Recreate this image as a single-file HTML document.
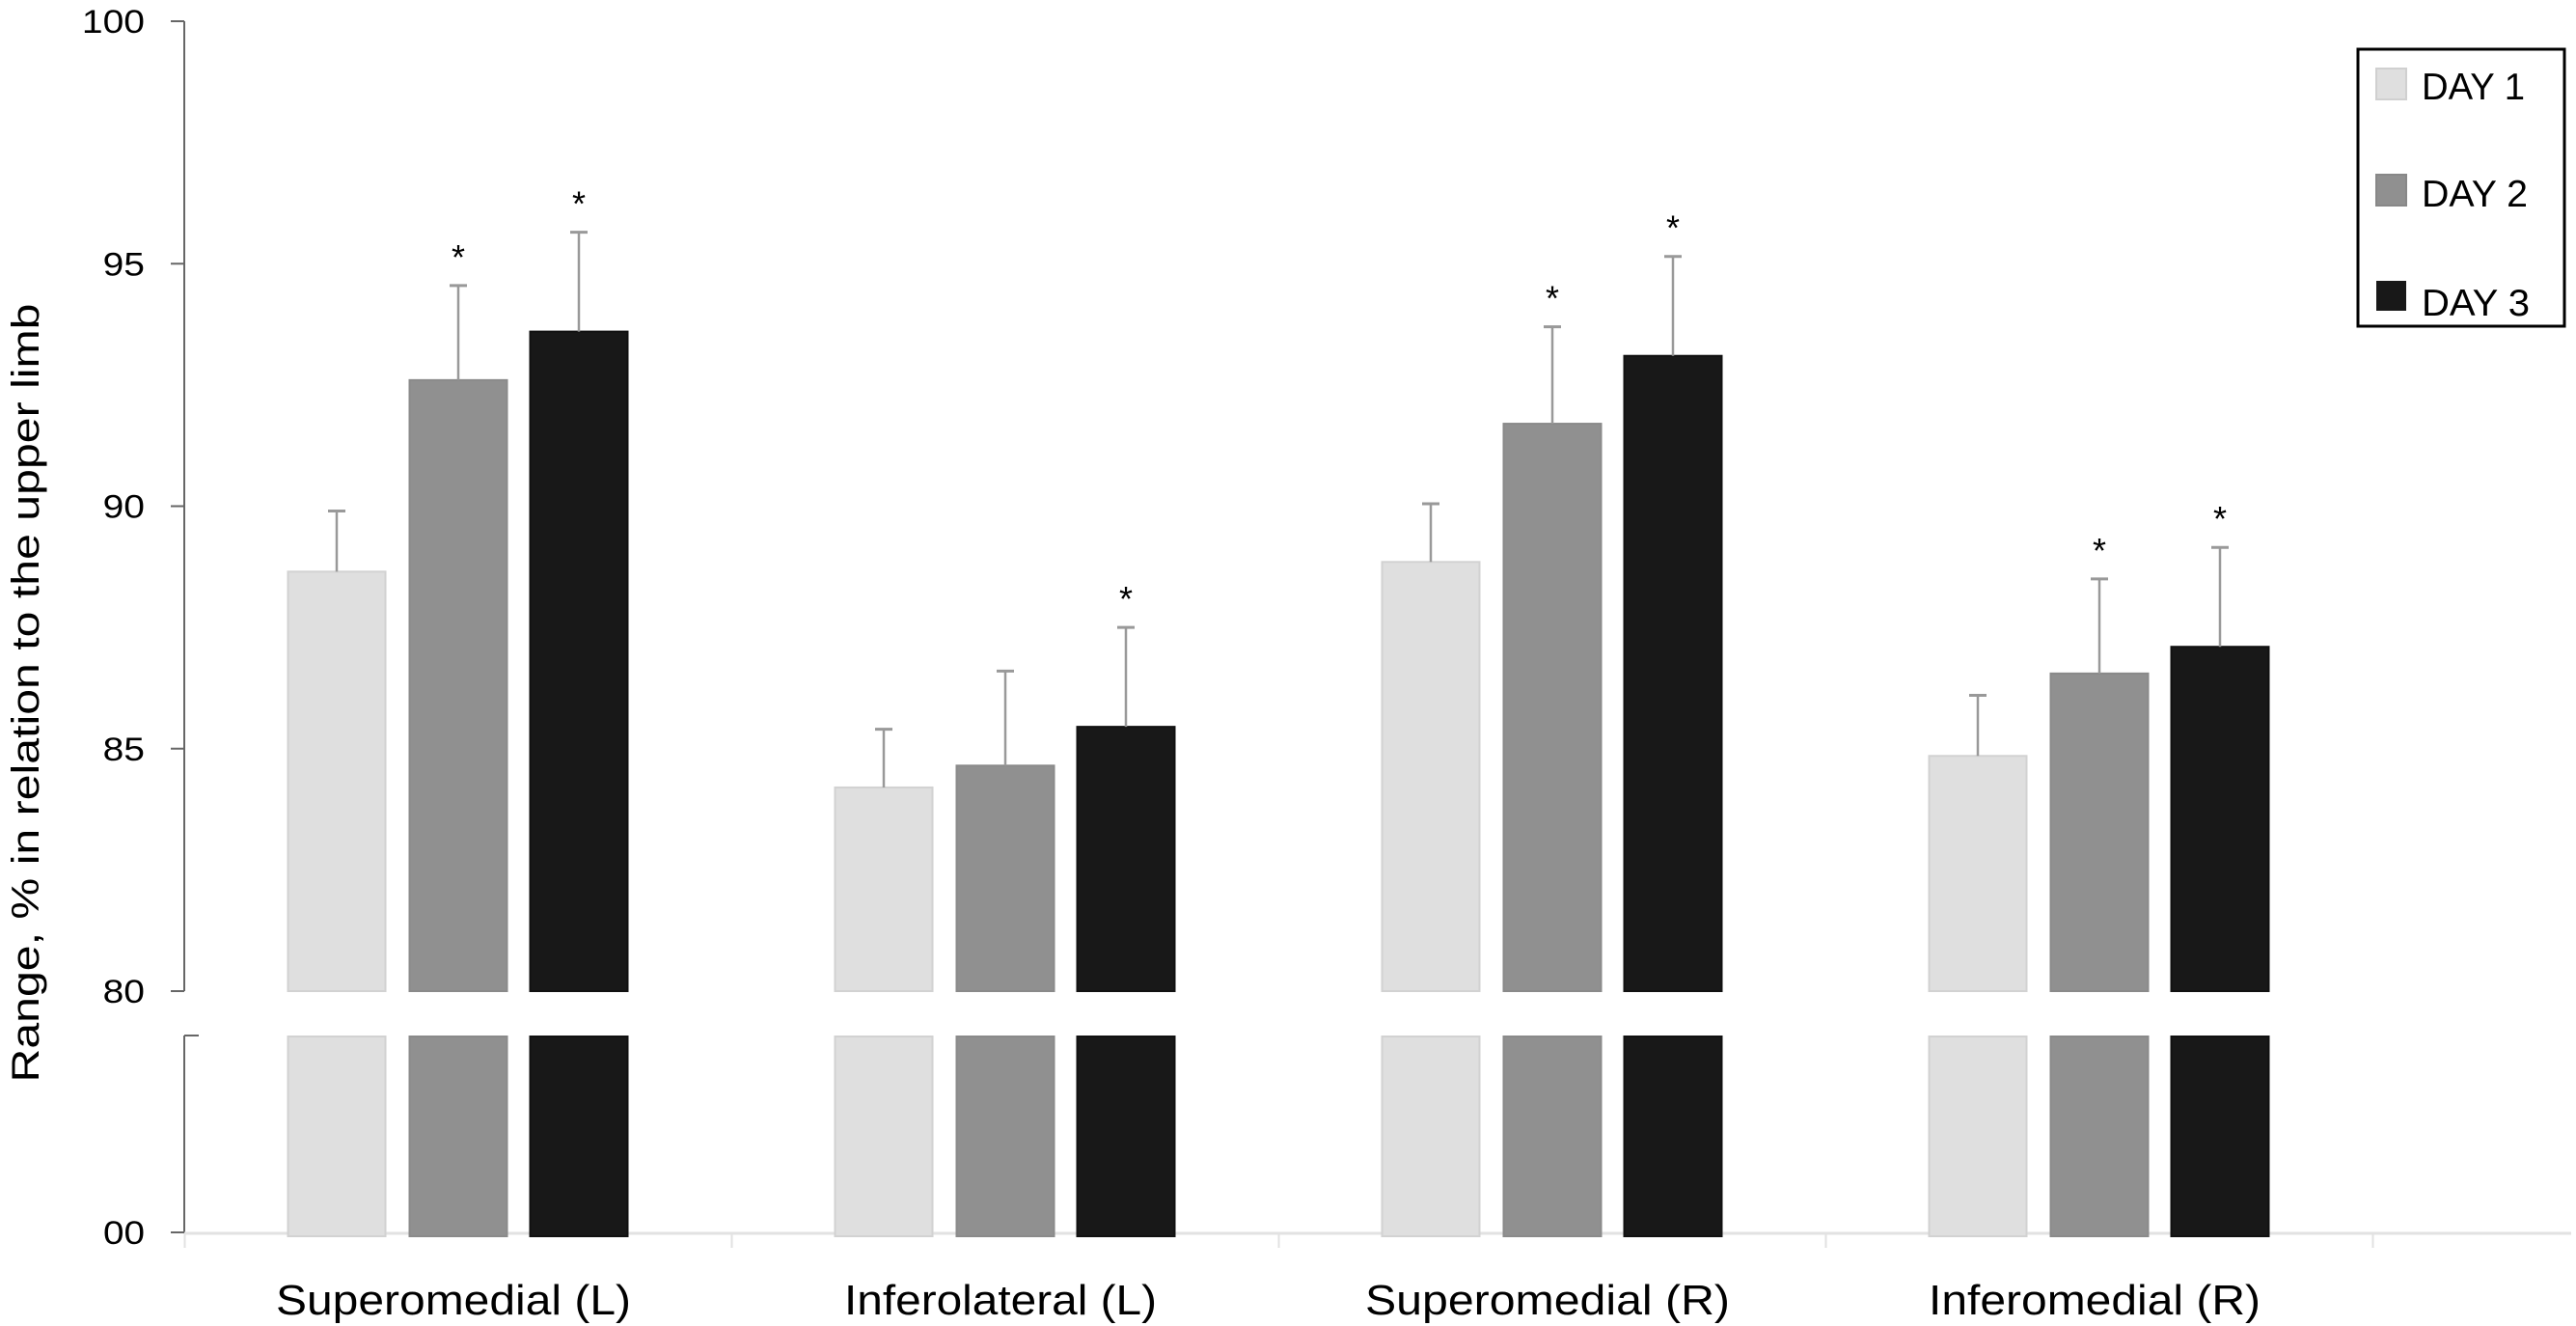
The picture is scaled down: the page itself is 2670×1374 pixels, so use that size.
<!DOCTYPE html>
<html><head><meta charset="utf-8"><style>
html,body{margin:0;padding:0;background:#fff;}
svg{display:block;font-family:"Liberation Sans",Arial,sans-serif;}
</style></head><body>
<svg id="chart" width="2670" height="1374" viewBox="0 0 2670 1374" xmlns="http://www.w3.org/2000/svg">
<g id="axes"></g>
<g id="bars"></g>
<text transform="translate(40,718) rotate(-90)" text-anchor="middle" font-size="40" textLength="807" lengthAdjust="spacingAndGlyphs">Range, % in relation to the upper limb</text>
<g>
<rect x="2444" y="51" width="214" height="287" fill="#fff" stroke="#000" stroke-width="3"/>
<g><rect x="2463" y="71" width="31" height="32" fill="#dfdfdf" stroke="#d0d0d0" stroke-width="2"/><text x="2510" y="103" font-size="39" textLength="107" lengthAdjust="spacingAndGlyphs">DAY 1</text></g>
<g><rect x="2463" y="181" width="31" height="32" fill="#909090" stroke="#888" stroke-width="2"/><text x="2510" y="214" font-size="39" textLength="110" lengthAdjust="spacingAndGlyphs">DAY 2</text></g>
<g><rect x="2463" y="291" width="31" height="31" fill="#181818"/><text x="2510" y="327" font-size="39" textLength="112" lengthAdjust="spacingAndGlyphs">DAY 3</text></g>
</g>
</svg>
<script>
const categories = ["Superomedial (L)", "Inferolateral (L)", "Superomedial (R)", "Inferomedial (R)"];
const day1 = [88.65, 84.2, 88.85, 84.85];
const day2 = [92.6, 84.65, 91.7, 86.55];
const day3 = [93.6, 85.45, 93.1, 87.1];
const err1 = [1.25, 1.2, 1.2, 1.25];
const err2 = [1.95, 1.95, 2.0, 1.95];
const err3 = [2.05, 2.05, 2.05, 2.05];
const sig2 = [true, false, true, true];
const sig3 = [true, true, true, true];
const yTicks = [80, 85, 90, 95, 100];
const yTickLabels = ["80", "85", "90", "95", "100"];

const NS = "http://www.w3.org/2000/svg";
function y(v){ return 1027 - (v - 80) * (1027 - 22) / 20; }
function xc(i){ return 475 + i * 567; }
function mk(tag, attrs, parent){ const e=document.createElementNS(NS,tag); for(const k in attrs) e.setAttribute(k,attrs[k]); parent.appendChild(e); return e; }
const axes=document.getElementById('axes'), bars=document.getElementById('bars');

let l=mk('line',{x1:191,y1:22,x2:191,y2:1027,stroke:'#666','stroke-width':2},axes);


l=mk('line',{x1:191,y1:1073,x2:191,y2:1277,stroke:'#666','stroke-width':2},axes);


l=mk('line',{x1:191,y1:1073,x2:206,y2:1073,stroke:'#666','stroke-width':2},axes);


yTicks.forEach((v,i)=>{
  let t=mk('line',{x1:177,y1:y(v),x2:191,y2:y(v),stroke:'#666','stroke-width':2},axes);
  
  
  const lab=yTickLabels[i];
  let tx=mk('text',{x:150,y:y(v)+12,'text-anchor':'end','font-size':34,textLength:lab.length*21.7,lengthAdjust:'spacingAndGlyphs'},axes);
  
  
  tx.textContent=lab;
});
let t0=mk('line',{x1:177,y1:1277,x2:191,y2:1277,stroke:'#666','stroke-width':2},axes);


let tx0=mk('text',{x:150,y:1289,'text-anchor':'end','font-size':34,textLength:43,lengthAdjust:'spacingAndGlyphs'},axes);


tx0.textContent="00";
l=mk('line',{x1:191,y1:1278,x2:2665,y2:1278,stroke:'#e2e2e2','stroke-width':3},axes);


for(let i=0;i<=categories.length;i++){
  let t=mk('line',{x1:xc(i)-283.5,y1:1278,x2:xc(i)-283.5,y2:1293,stroke:'#e2e2e2','stroke-width':2},axes);
  
  
}
const labelLens=[368,324,378,344];
categories.forEach((c,i)=>{
  let t=mk('text',{x:xc(i)-5,y:1362,'text-anchor':'middle','font-size':44,textLength:labelLens[i],lengthAdjust:'spacingAndGlyphs'},axes);
  
  
  t.textContent=c;
});

const series=[{v:day1,e:err1,s:null,fill:'#dfdfdf',stroke:'#d2d2d2',off:-126,n:'day1'},
              {v:day2,e:err2,s:sig2,fill:'#909090',stroke:'#8a8a8a',off:0,n:'day2'},
              {v:day3,e:err3,s:sig3,fill:'#181818',stroke:'#111',off:125,n:'day3'}];
const bw=101;
series.forEach(sr=>{
  sr.v.forEach((val,i)=>{
    const cx=xc(i)+sr.off, x0=cx-bw/2;
    let b=mk('rect',{x:x0,y:y(val),width:bw,height:1027-y(val),fill:sr.fill,stroke:sr.stroke,'stroke-width':2},bars);
    
    
    let b2=mk('rect',{x:x0,y:1074,width:bw,height:207,fill:sr.fill,stroke:sr.stroke,'stroke-width':2},bars);
    
    
    const top=y(val+sr.e[i]);
    let e=mk('line',{x1:cx,y1:y(val),x2:cx,y2:top,stroke:'#999','stroke-width':2.5},bars);
    
    
    let cap=mk('line',{x1:cx-9,y1:top,x2:cx+9,y2:top,stroke:'#999','stroke-width':3},bars);
    
    
    if(sr.s && sr.s[i]){
      let a=mk('text',{x:cx,y:top-17,'text-anchor':'middle','font-size':36},bars);
      
      
      a.textContent='*';
    }
  });
});
</script>
</body></html>
